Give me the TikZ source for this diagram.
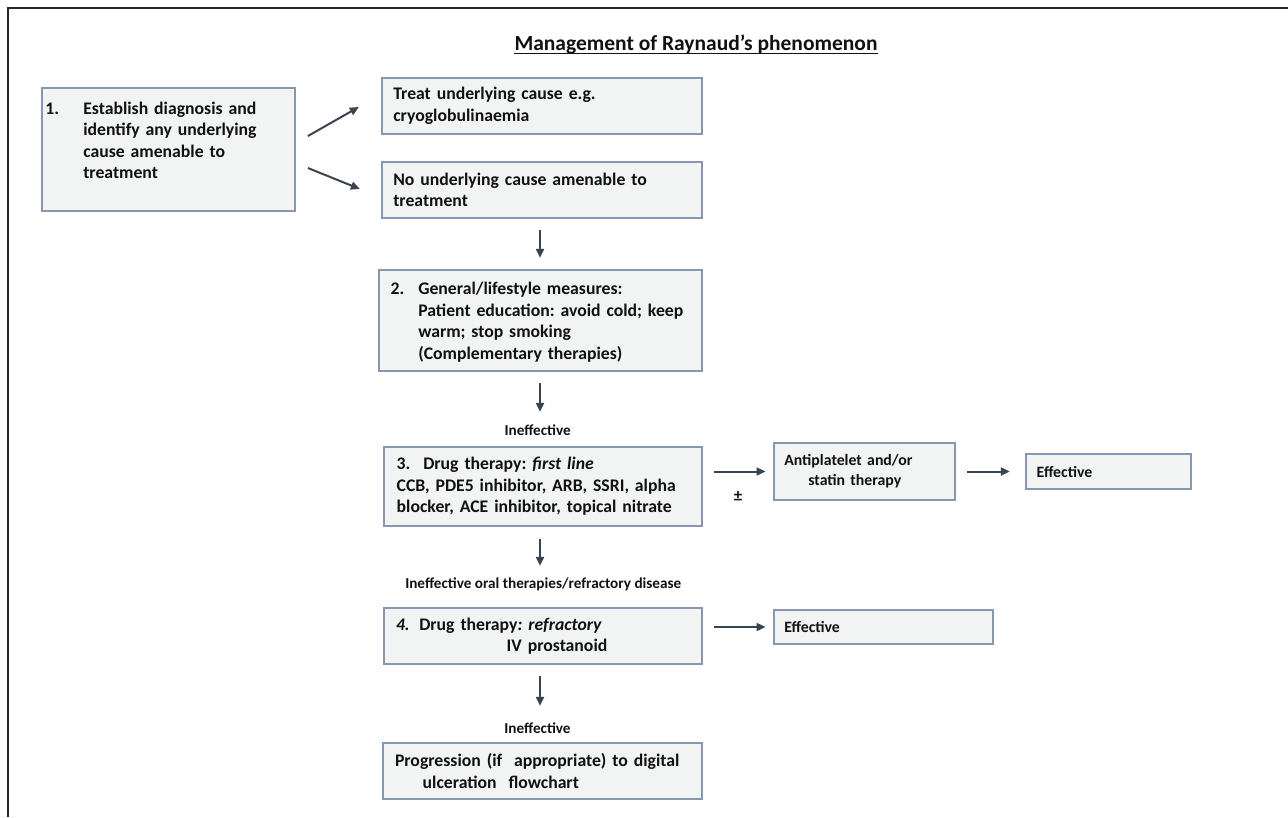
\documentclass[tikz,border=0pt]{standalone}
\usepackage{fontspec}
\setmainfont{Carlito}
\usetikzlibrary{arrows.meta,calc}
\definecolor{boxfill}{HTML}{F2F3F3}
\definecolor{boxline}{HTML}{8797B0}
\definecolor{arrcol}{HTML}{3A4352}
\definecolor{txt}{HTML}{111111}
\frenchspacing
\begin{document}
\begin{tikzpicture}[x=1pt,y=-1pt,
  box/.style={draw=boxline, line width=2.3pt, fill=boxfill, rectangle, inner ysep=0pt,
    font=\fontsize{17.7}{21.5}\selectfont\bfseries\frenchspacing, text=txt, align=left},
  smallbox/.style={box, font=\fontsize{15.8}{20}\selectfont\bfseries\frenchspacing},
  arr/.style={draw=arrcol, line width=2pt, -{Triangle[length=9pt,width=8pt]}},
  lbl/.style={font=\fontsize{15.2}{18}\selectfont\bfseries, text=txt, inner sep=0pt, anchor=base},
  frame/.style={draw=black!85, line width=2pt}]
\useasboundingbox (0,0) rectangle (1288,817);
\draw[frame] (8,817) -- (8,8) -- (1288,8);

% title
\node[font=\fontsize{21.5}{26}\selectfont\bfseries, text=txt, inner sep=0pt, anchor=base] (title) at (696,50) {Management of Raynaud’s phenomenon};
\draw[txt, line width=1.6pt] ($(title.base west)+(0,3.5)$) -- ($(title.base east)+(0,3.5)$);

% boxes
\node[box, minimum width=253pt, minimum height=123pt, inner xsep=3.5pt, text width=246pt] (b1) at (168.3,149.5)
  {\begin{tabular}{@{}l@{}l@{}}\makebox[38pt][l]{1.}&Establish diagnosis and\\ &identify any underlying\\ &cause amenable to\\ &treatment\\[-7pt] &\end{tabular}};
\node[box, minimum width=320pt, minimum height=56pt, inner xsep=11.3pt, text width=297.4pt] (treat) at (542,106)
  {Treat underlying cause e.g.\\cryoglobulinaemia};
\node[box, minimum width=320pt, minimum height=56pt, inner xsep=11.3pt, text width=297.4pt] (none) at (542,190)
  {No underlying cause amenable to\\treatment};
\node[box, minimum width=323pt, minimum height=101pt, inner xsep=11.7pt, text width=299.6pt] (b2) at (540.5,320.5)
  {\begin{tabular}{@{}l@{}l@{}}&\\[-17pt]\makebox[27.6pt][l]{2.}&General/lifestyle measures:\\ &Patient education: avoid cold; keep\\ &warm; stop smoking\\ &(Complementary therapies)\end{tabular}};
\node[box, minimum width=318pt, minimum height=79pt, inner xsep=12.7pt, text width=292.6pt] (b3) at (543,486.5)
  {\makebox[26.6pt][l]{3.}Drug therapy: \textit{first line}\\CCB, PDE5 inhibitor, ARB, SSRI, alpha\\blocker, ACE inhibitor, topical nitrate};
\node[box, minimum width=318pt, minimum height=56pt, inner xsep=12pt, text width=294pt] (b4) at (543,636)
  {\makebox[23.3pt][l]{\textit{4.}}Drug therapy\textit{: refractory}\\\hspace*{110.7pt}IV prostanoid};
\node[box, minimum width=319pt, minimum height=56pt, inner xsep=12pt, text width=295pt] (b5) at (542.5,771)
  {Progression (if\ \ appropriate) to digital\\\hspace*{27.7pt}ulceration\ \ flowchart};
\node[smallbox, minimum width=181pt, minimum height=57pt, inner xsep=10.3pt, text width=160.4pt] (anti) at (864.5,471.5)
  {Antiplatelet and/or\\\hspace*{24pt}statin therapy};
\node[smallbox, minimum width=165pt, minimum height=35pt, inner xsep=10.7pt, text width=143.6pt] (eff1) at (1108.5,471.5)
  {Effective};
\node[smallbox, minimum width=219pt, minimum height=34pt, inner xsep=10.3pt, text width=198.4pt] (eff2) at (883.5,627)
  {Effective};

% arrows
\draw[arr] ($(b1.east)+(12,-13.5)$) -- ($(treat.west)+(-22,1)$);
\draw[arr] ($(b1.east)+(12,18.5)$) -- ($(none.west)+(-21,-1)$);
\draw[arr, shorten <=11pt, shorten >=11pt] ($(none.south)+(-2,0)$) -- ($(b2.north)+(-0.5,0)$);
\draw[arr, shorten <=11pt, shorten >=34pt] ($(b2.south)+(-0.5,0)$) -- ($(b3.north)+(-3,0)$);
\draw[arr, shorten <=12pt, shorten >=41pt] ($(b3.south)+(-3,0)$) -- ($(b4.north)+(-3,0)$);
\draw[arr, shorten <=11pt, shorten >=36pt] ($(b4.south)+(-3,0)$) -- ($(b5.north)+(-2.5,0)$);
\draw[arr, shorten <=10.7pt, shorten >=7.3pt] (anti.west -| b3.east) -- (anti.west);
\draw[arr, shorten <=11pt, shorten >=15pt] (anti.east) -- (eff1.west);
\draw[arr, shorten <=10.7pt, shorten >=7.3pt] (eff2.west -| b4.east) -- (eff2.west);

% labels
\node[lbl] (l1) at (537.7,435) {Ineffective};
\node[lbl] (l2) at (543.3,588) {Ineffective oral therapies/refractory disease};
\node[lbl] (l3) at (537.5,733) {Ineffective};
\node[lbl, font=\fontsize{17}{20}\selectfont\bfseries] (pm) at (738,501) {±};
\end{tikzpicture}
\end{document}
